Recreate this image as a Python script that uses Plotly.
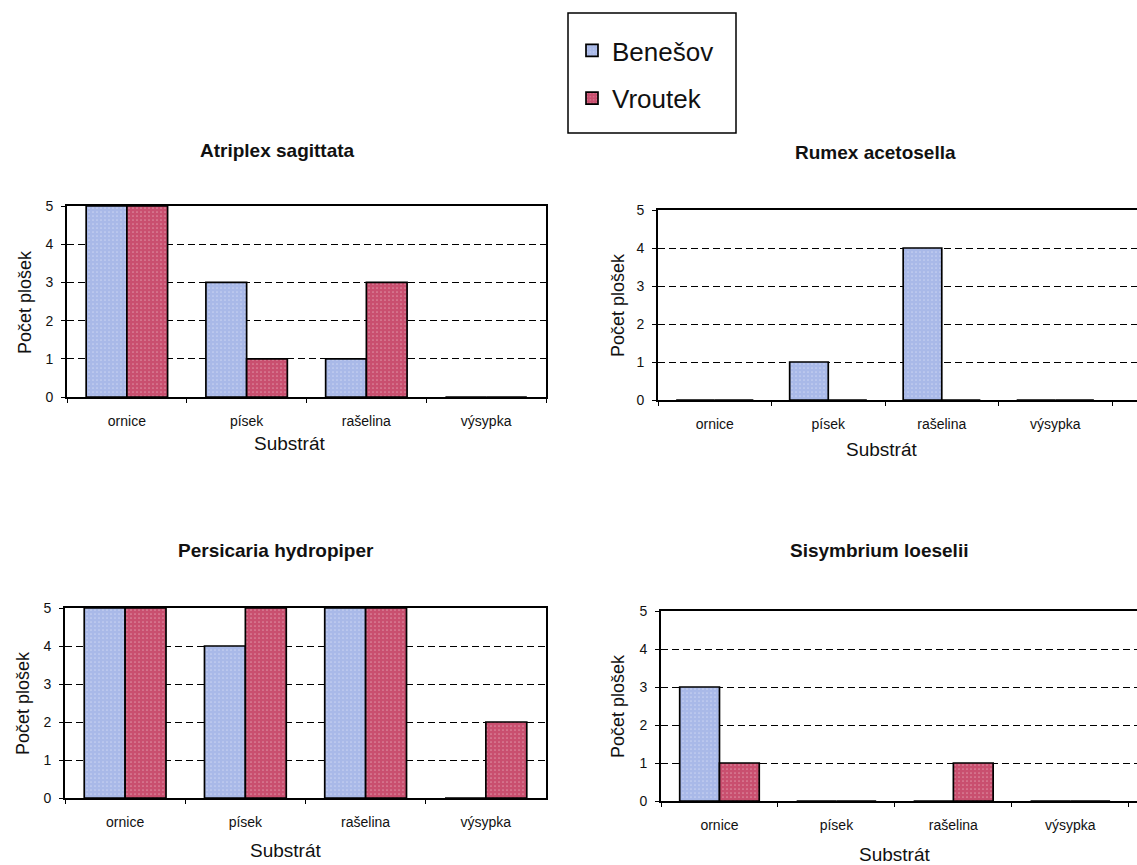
import plotly.graph_objects as go

W, H = 1137, 865

# Substrate categories shared by all four panels
substrates = ["ornice", "písek", "rašelina", "výsypka"]

# Number of plots per substrate, by locality
atriplex_benesov = [5, 3, 1, 0]
atriplex_vroutek = [5, 1, 3, 0]

rumex_benesov = [0, 1, 4, 0]
rumex_vroutek = [0, 0, 0, 0]

persicaria_benesov = [5, 4, 5, 0]
persicaria_vroutek = [5, 5, 5, 2]

sisymbrium_benesov = [3, 0, 0, 0]
sisymbrium_vroutek = [1, 0, 1, 0]

y_ticks = [0, 1, 2, 3, 4, 5]

BLUE = "#a9b9e8"
RED = "#c94f6f"
FONT = "Liberation Sans, Arial, sans-serif"


def px_x(p):
    return p / W


def px_y(p):
    return 1 - p / H


# panel geometry in pixels: (left, right, top, bottom), x range end, title
panels = [
    dict(box=(67, 546, 206, 397), xend=3.5, title="Atriplex sagittata",
         tpos=(277, 150), xt=(289, 444), yt=(25, 302),
         ben=atriplex_benesov, vro=atriplex_vroutek),
    dict(box=(658, 1137, 210, 400), xend=3.72, title="Rumex acetosella",
         tpos=(875, 153), xt=(882, 450), yt=(618, 305),
         ben=rumex_benesov, vro=rumex_vroutek),
    dict(box=(65, 546, 608, 798), xend=3.5, title="Persicaria hydropiper",
         tpos=(276, 550), xt=(285, 850), yt=(23, 703),
         ben=persicaria_benesov, vro=persicaria_vroutek),
    dict(box=(661, 1137, 611, 801), xend=3.57, title="Sisymbrium loeselii",
         tpos=(879, 550), xt=(894, 854), yt=(618, 706),
         ben=sisymbrium_benesov, vro=sisymbrium_vroutek),
]

fig = go.Figure()
annotations = []
layout_axes = {}

for i, p in enumerate(panels, start=1):
    sfx = "" if i == 1 else str(i)
    xa, ya = "x" + sfx, "y" + sfx
    first = i == 1
    for name, vals, color in (("Benešov", p["ben"], BLUE), ("Vroutek", p["vro"], RED)):
        fig.add_trace(go.Bar(
            x=substrates, y=vals, name=name, xaxis=xa, yaxis=ya,
            legendgroup=name, showlegend=first,
            marker=dict(color=color, line=dict(color="black", width=1.7),
                        pattern=dict(shape=".", fgcolor="#ffffff", size=4,
                                     solidity=0.15, fgopacity=0.35)),
        ))

    l, r, t, b = p["box"]
    layout_axes["xaxis" + sfx] = dict(
        domain=[px_x(l), px_x(r)], anchor=ya, type="category",
        range=[-0.5, p["xend"]], showline=True, mirror=True,
        linecolor="black", linewidth=1.6, ticks="outside", ticklen=4,
        tickcolor="black", tickson="boundaries", showgrid=False,
        tickfont=dict(family=FONT, size=14, color="#111"),
        ticklabelstandoff=10, automargin=False, fixedrange=True,
    )
    layout_axes["yaxis" + sfx] = dict(
        domain=[px_y(b), px_y(t)], anchor=xa, range=[0, 5],
        tickvals=y_ticks, showline=True, mirror=True, linecolor="black",
        linewidth=1.6, ticks="outside", ticklen=4, tickcolor="black",
        showgrid=True, gridcolor="black", griddash="7px,4px", gridwidth=1.4,
        zeroline=False, tickfont=dict(family=FONT, size=14, color="#111"),
        ticklabelstandoff=5, automargin=False, fixedrange=True,
    )

    tx, ty = p["tpos"]
    annotations.append(dict(
        text="<b>" + p["title"] + "</b>", x=px_x(tx), y=px_y(ty),
        xref="paper", yref="paper", showarrow=False,
        font=dict(family=FONT, size=19, color="#111"),
        xanchor="center", yanchor="middle"))
    sx, sy = p["xt"]
    annotations.append(dict(
        text="Substrát", x=px_x(sx), y=px_y(sy), xref="paper", yref="paper",
        showarrow=False, font=dict(family=FONT, size=19, color="#111"),
        xanchor="center", yanchor="middle"))
    vx, vy = p["yt"]
    annotations.append(dict(
        text="Počet plošek", x=px_x(vx), y=px_y(vy), xref="paper",
        yref="paper", showarrow=False, textangle=-90,
        font=dict(family=FONT, size=18, color="#111"),
        xanchor="center", yanchor="middle"))

fig.update_layout(
    width=W, height=H,
    margin=dict(l=0, r=0, t=0, b=0, autoexpand=False),
    paper_bgcolor="white", plot_bgcolor="white",
    barmode="group", bargap=0.32, bargroupgap=0,
    annotations=annotations,
    legend=dict(
        x=px_x(572), y=px_y(27), xanchor="left", yanchor="top",
        bgcolor="rgba(0,0,0,0)", borderwidth=0,
        font=dict(family=FONT, size=26, color="#111"),
        tracegroupgap=11, traceorder="grouped",
    ),
    shapes=[dict(type="rect", xref="paper", yref="paper",
                 x0=px_x(568), x1=px_x(736), y0=px_y(133), y1=px_y(13),
                 line=dict(color="black", width=1.5), fillcolor="rgba(0,0,0,0)")],
    **layout_axes,
)

fig.write_html("out.html")
